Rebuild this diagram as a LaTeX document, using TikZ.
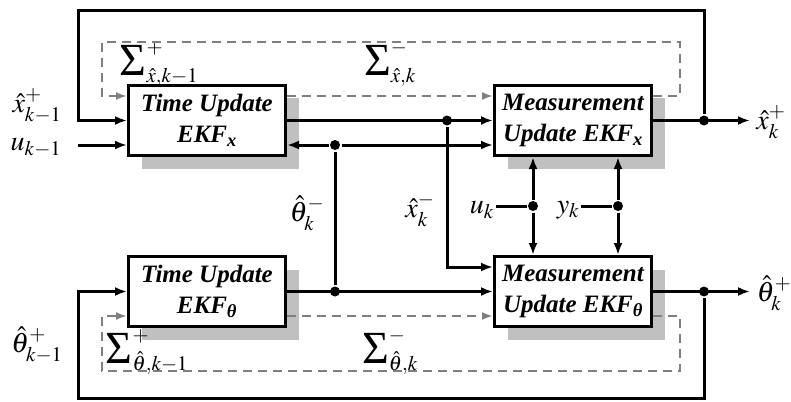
\documentclass[tikz,border=0pt]{standalone}
\usepackage{amsmath}
\usepackage{mathptmx}
\usepackage[no-math]{fontspec}
\setmainfont{Liberation Serif}
\usetikzlibrary{arrows.meta, shadows}
\definecolor{cgrey}{HTML}{7F7F7F}
\definecolor{cshadow}{HTML}{C0C0C0}
\newcommand{\bigsig}{\mathop{\text{\fontsize{46}{46}\selectfont Σ}}\nolimits}
\tikzset{
  every picture/.style={line width=3pt, x=1pt, y=-1pt},
  block/.style={draw, fill=white, minimum width=157pt, minimum height=70pt, align=center, inner sep=2pt,
    font=\fontsize{25}{31}\selectfont\bfseries\itshape,
    drop shadow={shadow xshift=13pt, shadow yshift=-13pt, fill=cshadow, opacity=1}},
  arrow/.style={-{Latex[length=12pt, width=9pt]}},
  darrow/.style={-{Latex[length=11pt, width=8pt]}, draw=cgrey, line width=2.6pt, dash pattern=on 9pt off 6pt},
  dot/.style={circle, fill, inner sep=0pt, minimum size=10pt},
  lbl/.style={font=\fontsize{28}{30}\selectfont, inner sep=0pt},
}

\begin{document}
\begin{tikzpicture}
  \useasboundingbox (0,0) rectangle (791,401);
  % filter blocks
  \node[block] (tux) at (207,120.5) {Time Update\\EKF\textsubscript{x}};
  \node[block] (mux) at (573,120.5) {Measurement\\Update EKF\textsubscript{x}};
  \node[block] (tut) at (207,291.5) {Time Update\\EKF\textsubscript{θ}};
  \node[block] (mut) at (573,291.5) {Measurement\\Update EKF\textsubscript{θ}};
  % junctions
  \node[dot] (dxm) at (447,120.5) {};
  \node[dot] (dxo) at (704,120.5) {};
  \node[dot] (dtm) at (335,291.5) {};
  \node[dot] (dtx) at (335,145) {};
  \node[dot] (dto) at (704,291.5) {};
  \node[dot] (duk) at (533,206) {};
  \node[dot] (dyk) at (618,206) {};
  \coordinate (ctop) at (78,11);
  \coordinate (cbot) at (78,398.5);
  \coordinate (uin) at (78,145);
  \coordinate (xout) at (750,120.5);
  \coordinate (tout) at (750,291.5);
  \coordinate (sxa) at (680,42);
  \coordinate (sxb) at (102,42);
  \coordinate (sta) at (680,371);
  \coordinate (stb) at (102,371);
  % labels
  \node[lbl] (lxin) at (37,106) {$\hat{x}^{+}_{k-1}$};
  \node[lbl] (luin) at (36,148) {$u_{k-1}$};
  \node[lbl] (lxout) at (771,122) {$\hat{x}^{+}_{k}$};
  \node[lbl] (ltout) at (774,293) {$\hat{\theta}^{+}_{k}$};
  \node[lbl] (ltin) at (37,345) {$\hat{\theta}^{+}_{k-1}$};
  \node[lbl] (ltm) at (307,213) {$\hat{\theta}^{-}_{k}$};
  \node[lbl] (lxm) at (420,210) {$\hat{x}^{-}_{k}$};
  \node[lbl] (uk) at (482,210) {$u_k$};
  \node[lbl] (yk) at (568,210) {$y_k$};
  \node[lbl] (sxp) at (159,64) {$\bigsig^{+}_{\hat{x},k-1}$};
  \node[lbl] (sxm) at (390,64) {$\bigsig^{-}_{\hat{x},k}$};
  \node[lbl] (stp) at (147,352) {$\bigsig^{+}_{\hat{\theta},k-1}$};
  \node[lbl] (stm) at (390,352) {$\bigsig^{-}_{\hat{\theta},k}$};
  % state filter
  \draw[arrow] (dxo) |- (ctop) |- (tux.west);
  \draw[arrow] (uin) -- (uin -| tux.west);
  \draw[arrow] (tux) -- (mux);
  \draw[arrow] (mux) -- (xout);
  \draw[arrow] (dxm) |- ([yshift=-12pt]mut.north west);
  % parameter filter
  \draw[arrow] (dto) |- (cbot) |- (tut.west);
  \draw[arrow] (tut) -- (mut);
  \draw[arrow] (mut) -- (tout);
  \draw (dtm) -- (dtx);
  \draw[arrow] (dtx) -- (dtx -| tux.east);
  \draw[arrow] (dtx) -- (dtx -| mux.west);
  % measurements
  \draw (uk.east |- duk) -- (duk);
  \draw[arrow] (duk) -- (duk |- mux.south);
  \draw[arrow] (duk) -- (duk |- mut.north);
  \draw (yk.east |- dyk) -- (dyk);
  \draw[arrow] (dyk) -- (dyk |- mux.south);
  \draw[arrow] (dyk) -- (dyk |- mut.north);
  % covariances
  \draw[darrow] ([yshift=24.5pt]tux.east) -- ([yshift=24.5pt]mux.west);
  \draw[darrow] ([yshift=24.5pt]mux.east) -| (sxa) -- (sxb) |- ([yshift=24.5pt]tux.west);
  \draw[darrow] ([yshift=-24.5pt]tut.east) -- ([yshift=-24.5pt]mut.west);
  \draw[darrow] ([yshift=-24.5pt]mut.east) -| (sta) -- (stb) |- ([yshift=-24.5pt]tut.west);
\end{tikzpicture}
\end{document}
